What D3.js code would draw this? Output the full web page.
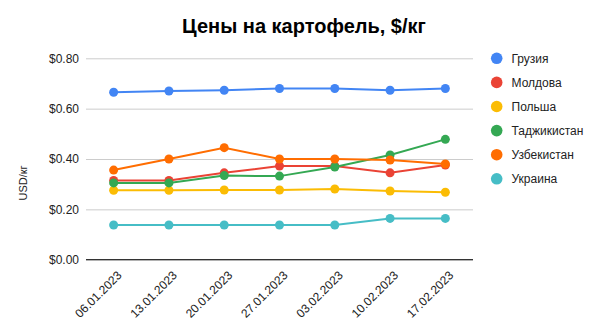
<!DOCTYPE html>
<html>
<head>
<meta charset="utf-8">
<script src="https://cdn.jsdelivr.net/npm/d3@7"></script>
<style>
  html, body { margin: 0; padding: 0; background: #fff; }
  svg { display: block; font-family: "Liberation Sans", Arial, sans-serif; }
</style>
</head>
<body>
<svg id="chart" width="603" height="331"></svg>
<script>
// Weekly potato prices, USD per kg
const dates = ["06.01.2023", "13.01.2023", "20.01.2023", "27.01.2023", "03.02.2023", "10.02.2023", "17.02.2023"];
const countries = ["Грузия", "Молдова", "Польша", "Таджикистан", "Узбекистан", "Украина"];
const georgia    = [0.665, 0.670, 0.673, 0.680, 0.680, 0.673, 0.680];
const moldova    = [0.315, 0.315, 0.345, 0.372, 0.372, 0.345, 0.376];
const poland     = [0.276, 0.276, 0.277, 0.277, 0.281, 0.273, 0.268];
const tajikistan = [0.305, 0.305, 0.334, 0.332, 0.368, 0.416, 0.478];
const uzbekistan = [0.356, 0.400, 0.445, 0.400, 0.400, 0.396, 0.380];
const ukraine    = [0.138, 0.138, 0.138, 0.138, 0.138, 0.164, 0.164];
const yTicks = [0, 0.2, 0.4, 0.6, 0.8];
const colors = ["#4285f4", "#ea4335", "#fbbc04", "#34a853", "#ff6d01", "#46bdc6"];

const seriesValues = [georgia, moldova, poland, tajikistan, uzbekistan, ukraine];
const series = countries.map((name, i) => ({
  name, color: colors[i],
  points: dates.map((d, j) => ({ date: d, value: seriesValues[i][j] }))
}));

const svg = d3.select("#chart");
const plot = { left: 86, right: 473, top: 58.3, bottom: 259.7 };

const x = d3.scalePoint().domain(dates).range([plot.left, plot.right]).padding(0.5);
const y = d3.scaleLinear().domain([0, 0.8]).range([plot.bottom, plot.top]);

// Title
svg.append("text")
  .attr("x", 304).attr("y", 32.5)
  .attr("text-anchor", "middle")
  .attr("font-size", 20).attr("font-weight", "bold").attr("fill", "#000")
  .text("Цены на картофель, $/кг");

// Gridlines and y labels
const yAxis = svg.append("g").attr("transform", `translate(${plot.left},0)`)
  .call(d3.axisLeft(y).tickValues(yTicks)
    .tickSize(-(plot.right - plot.left))
    .tickPadding(7)
    .tickFormat(d => "$" + d3.format(".2f")(d)));
yAxis.select(".domain").remove();
yAxis.selectAll(".tick line").attr("stroke", "#cccccc").attr("stroke-width", 1);
yAxis.selectAll(".tick text").attr("font-size", 12).attr("fill", "#222")
  .attr("font-family", "Liberation Sans, Arial, sans-serif");

// Baseline
svg.append("line")
  .attr("x1", plot.left).attr("x2", plot.right)
  .attr("y1", y(0)).attr("y2", y(0))
  .attr("stroke", "#333").attr("stroke-width", 1.2);

// Y axis title
svg.append("text")
  .attr("transform", `translate(27,183) rotate(-90)`)
  .attr("text-anchor", "middle")
  .attr("font-size", 11).attr("fill", "#222")
  .text("USD/кг");

// X axis labels
const xAxis = svg.append("g").attr("transform", `translate(0,${plot.bottom})`)
  .call(d3.axisBottom(x).tickSize(0).tickPadding(0));
xAxis.select(".domain").remove();
xAxis.selectAll(".tick text")
  .attr("font-size", 12).attr("fill", "#222")
  .attr("font-family", "Liberation Sans, Arial, sans-serif")
  .attr("text-anchor", "end")
  .attr("dy", null).attr("y", 0)
  .attr("transform", "translate(8.4,16.3) rotate(-45)");

// Lines and points
const line = d3.line().x(d => x(d.date)).y(d => y(d.value));
const g = svg.append("g");
series.forEach(s => {
  g.append("path").datum(s.points)
    .attr("d", line).attr("fill", "none")
    .attr("stroke", s.color).attr("stroke-width", 2);
  g.selectAll(null).data(s.points).enter().append("circle")
    .attr("cx", d => x(d.date)).attr("cy", d => y(d.value))
    .attr("r", 4.5).attr("fill", s.color);
});

// Legend
const legend = svg.append("g");
series.forEach((s, i) => {
  const ly = 58.3 + i * 24.1;
  legend.append("circle").attr("cx", 496.7).attr("cy", ly).attr("r", 5.8).attr("fill", s.color);
  legend.append("text").attr("x", 511.5).attr("y", ly + 4.3)
    .attr("font-size", 12).attr("fill", "#222").text(s.name);
});
</script>
</body>
</html>
